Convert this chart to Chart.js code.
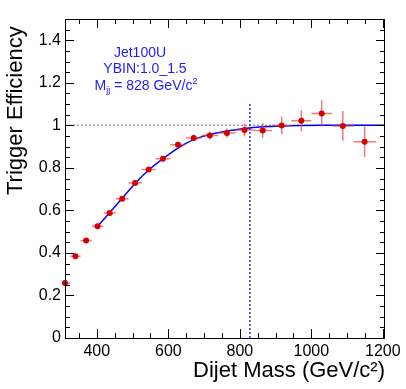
<!DOCTYPE html>
<html>
<head>
<meta charset="utf-8">
<title>Trigger Efficiency</title>
<script src="https://cdn.jsdelivr.net/npm/chart.js@4.4.0/dist/chart.umd.min.js"></script>
<style>
  html, body { margin: 0; padding: 0; background: #fff; }
  #effChart { display: block; }
</style>
</head>
<body>
<canvas id="effChart" width="406" height="389"></canvas>
<script>
// Measured efficiency points: bin centre, half bin width, value, error
const massBins = [311, 340, 370, 402, 436, 471, 507, 545, 585, 627, 671, 716, 764, 813, 864, 917, 972, 1029, 1088, 1149];
const massHalfWidth = [14, 14.5, 16, 16.5, 17, 18, 18.5, 19.5, 20.5, 21.5, 22, 23.5, 24, 25, 26, 27, 28, 29, 30, 31.5];
const efficiency = [0.259, 0.384, 0.459, 0.525, 0.588, 0.655, 0.729, 0.792, 0.843, 0.909, 0.941, 0.952, 0.964, 0.978, 0.976, 0.999, 1.022, 1.056, 0.997, 0.923];
const efficiencyErr = [0.008, 0.008, 0.008, 0.009, 0.01, 0.01, 0.011, 0.012, 0.013, 0.014, 0.016, 0.019, 0.021, 0.03, 0.035, 0.041, 0.05, 0.062, 0.07, 0.072];

// Fit curve
const fitMass = [402, 436, 471, 507, 545, 585, 627, 671, 716, 764, 813, 864, 917, 972, 1029, 1100, 1206];
const fitEff = [0.525, 0.59, 0.657, 0.727, 0.79, 0.843, 0.893, 0.933, 0.957, 0.973, 0.985, 0.993, 0.997, 0.999, 1.0, 1.0, 1.0];

// Axis ranges and tick labels
const xRange = [311, 1206];
const yRange = [0, 1.5];
const xTickValues = [400, 600, 800, 1000, 1200];
const yTickValues = [0, 0.2, 0.4, 0.6, 0.8, 1, 1.2, 1.4];

// 99% point of the fit
const cutMass = 828;
const cutLineTop = 1.1;

const FONT = "'Liberation Sans', Arial, Helvetica, sans-serif";
const BLUE_TEXT = '#1c1cff';

// Draw the x/y error bars just before the points dataset
const errorBarPlugin = {
    id: 'errorBars',
    beforeDatasetDraw(chart, args) {
        if (args.index !== 0) return;
        const ctx = chart.ctx;
        const xs = chart.scales.x;
        const ys = chart.scales.y;
        const area = chart.chartArea;
        ctx.save();
        ctx.beginPath();
        ctx.rect(area.left, area.top, area.right - area.left, area.bottom - area.top);
        ctx.clip();
        ctx.strokeStyle = 'rgba(225, 70, 70, 0.7)';
        ctx.lineWidth = 1.5;
        massBins.forEach((m, i) => {
            const px = xs.getPixelForValue(m);
            const py = ys.getPixelForValue(efficiency[i]);
            ctx.beginPath();
            ctx.moveTo(xs.getPixelForValue(m - massHalfWidth[i]), py);
            ctx.lineTo(xs.getPixelForValue(m + massHalfWidth[i]), py);
            ctx.moveTo(px, ys.getPixelForValue(efficiency[i] - efficiencyErr[i]));
            ctx.lineTo(px, ys.getPixelForValue(efficiency[i] + efficiencyErr[i]));
            ctx.stroke();
        });
        ctx.restore();
    }
};

// Frame with inward ticks on all four sides (ROOT style)
const frameTicksPlugin = {
    id: 'frameTicks',
    afterDraw(chart) {
        const ctx = chart.ctx;
        const { left, right, top, bottom } = chart.chartArea;
        const xs = chart.scales.x;
        const ys = chart.scales.y;
        ctx.save();
        ctx.strokeStyle = '#000';
        ctx.lineWidth = 1;

        // x ticks every 50, long ones every 200
        for (let v = 350; v <= 1200; v += 50) {
            const px = Math.round(xs.getPixelForValue(v)) + 0.5;
            const len = v % 200 === 0 ? 9 : 5;
            ctx.beginPath();
            ctx.moveTo(px, bottom);
            ctx.lineTo(px, bottom - len);
            ctx.moveTo(px, top);
            ctx.lineTo(px, top + len);
            ctx.stroke();
        }

        // y ticks every 0.05, long ones every 0.2
        for (let k = 1; k < 30; k++) {
            const py = Math.round(ys.getPixelForValue(k * 0.05)) + 0.5;
            const len = k % 4 === 0 ? 9 : 5;
            ctx.beginPath();
            ctx.moveTo(left, py);
            ctx.lineTo(left + len, py);
            ctx.moveTo(right, py);
            ctx.lineTo(right - len, py);
            ctx.stroke();
        }

        ctx.strokeRect(Math.round(left) + 0.5, Math.round(top) + 0.5,
            Math.round(right - left) - 1, Math.round(bottom - top));
        ctx.restore();
    }
};

// Rotated y title, placed so it ends a little below the frame top
const yTitlePlugin = {
    id: 'yTitle',
    afterDraw(chart) {
        const ctx = chart.ctx;
        ctx.save();
        ctx.translate(22, 195);
        ctx.rotate(-Math.PI / 2);
        ctx.fillStyle = '#000';
        ctx.font = '22px ' + FONT;
        ctx.textAlign = 'left';
        ctx.textBaseline = 'alphabetic';
        ctx.fillText('Trigger Efficiency', 0, 0);
        ctx.restore();
    }
};

// Blue label block in the upper left
const labelPlugin = {
    id: 'labelBox',
    afterDraw(chart) {
        const ctx = chart.ctx;
        ctx.save();
        ctx.fillStyle = BLUE_TEXT;
        ctx.textBaseline = 'alphabetic';
        ctx.textAlign = 'center';
        ctx.font = '14px ' + FONT;
        ctx.fillText('Jet100U', 140, 57);
        ctx.fillText('YBIN:1.0_1.5', 145, 73);

        // M_jj = 828 GeV/c^2 with sub/superscripts
        const big = '14px ' + FONT;
        const small = '9px ' + FONT;
        const parts = [
            { t: 'M', f: big, dy: 0 },
            { t: 'jj', f: small, dy: 3 },
            { t: ' = ' + cutMass + ' GeV/c', f: big, dy: 0 },
            { t: '2', f: small, dy: -6 }
        ];
        let total = 0;
        parts.forEach(p => { ctx.font = p.f; p.w = ctx.measureText(p.t).width; total += p.w; });
        let x = 146 - total / 2;
        ctx.textAlign = 'left';
        parts.forEach(p => {
            ctx.font = p.f;
            ctx.fillText(p.t, x, 90 + p.dy);
            x += p.w;
        });
        ctx.restore();
    }
};

function buildChart() {
    const ctx = document.getElementById('effChart').getContext('2d');
    new Chart(ctx, {
        type: 'scatter',
        data: {
            datasets: [
                {
                    label: 'Efficiency',
                    data: massBins.map((m, i) => ({ x: m, y: efficiency[i] })),
                    pointRadius: 3,
                    pointBackgroundColor: '#d60000',
                    pointBorderColor: '#d60000',
                    pointBorderWidth: 0,
                    clip: false
                },
                {
                    label: 'Fit',
                    type: 'line',
                    data: fitMass.map((m, i) => ({ x: m, y: fitEff[i] })),
                    borderColor: '#0000ff',
                    borderWidth: 1.5,
                    pointRadius: 0,
                    cubicInterpolationMode: 'monotone',
                    fill: false
                },
                {
                    label: 'Cut',
                    type: 'line',
                    data: [{ x: cutMass, y: 0 }, { x: cutMass, y: cutLineTop }],
                    borderColor: '#2a2aff',
                    borderWidth: 1.5,
                    borderDash: [2, 2],
                    pointRadius: 0,
                    fill: false
                },
                {
                    label: 'Unity',
                    type: 'line',
                    data: [{ x: xRange[0], y: 1 }, { x: xRange[1], y: 1 }],
                    borderColor: '#9a9a9a',
                    borderWidth: 1.5,
                    borderDash: [2, 2],
                    pointRadius: 0,
                    fill: false
                }
            ]
        },
        options: {
            responsive: false,
            animation: false,
            devicePixelRatio: 1,
            layout: { padding: { top: 19, right: 21, left: 0, bottom: 0 } },
            plugins: {
                legend: { display: false },
                tooltip: { enabled: false }
            },
            scales: {
                x: {
                    type: 'linear',
                    min: xRange[0],
                    max: xRange[1],
                    grid: { display: false, drawTicks: false },
                    border: { display: false },
                    afterFit(scale) { scale.height = 51; },
                    afterBuildTicks(scale) { scale.ticks = xTickValues.map(v => ({ value: v })); },
                    ticks: {
                        font: { family: FONT, size: 16 },
                        color: '#000',
                        padding: 4,
                        maxRotation: 0,
                        autoSkip: false,
                        callback: v => String(v)
                    },
                    title: {
                        display: true,
                        text: 'Dijet Mass (GeV/c²)',
                        align: 'end',
                        color: '#000',
                        font: { family: FONT, size: 22 },
                        padding: { top: 0, bottom: 5 }
                    }
                },
                y: {
                    type: 'linear',
                    min: yRange[0],
                    max: yRange[1],
                    grid: { display: false, drawTicks: false },
                    border: { display: false },
                    afterFit(scale) { scale.width = 65; },
                    afterBuildTicks(scale) { scale.ticks = yTickValues.map(v => ({ value: v })); },
                    ticks: {
                        font: { family: FONT, size: 16 },
                        color: '#000',
                        padding: 4,
                        autoSkip: false,
                        callback: v => String(+v.toFixed(1))
                    },
                    title: { display: false }
                }
            }
        },
        plugins: [errorBarPlugin, frameTicksPlugin, yTitlePlugin, labelPlugin]
    });
}

window.onload = function() {
    buildChart();
};
</script>
</body>
</html>
